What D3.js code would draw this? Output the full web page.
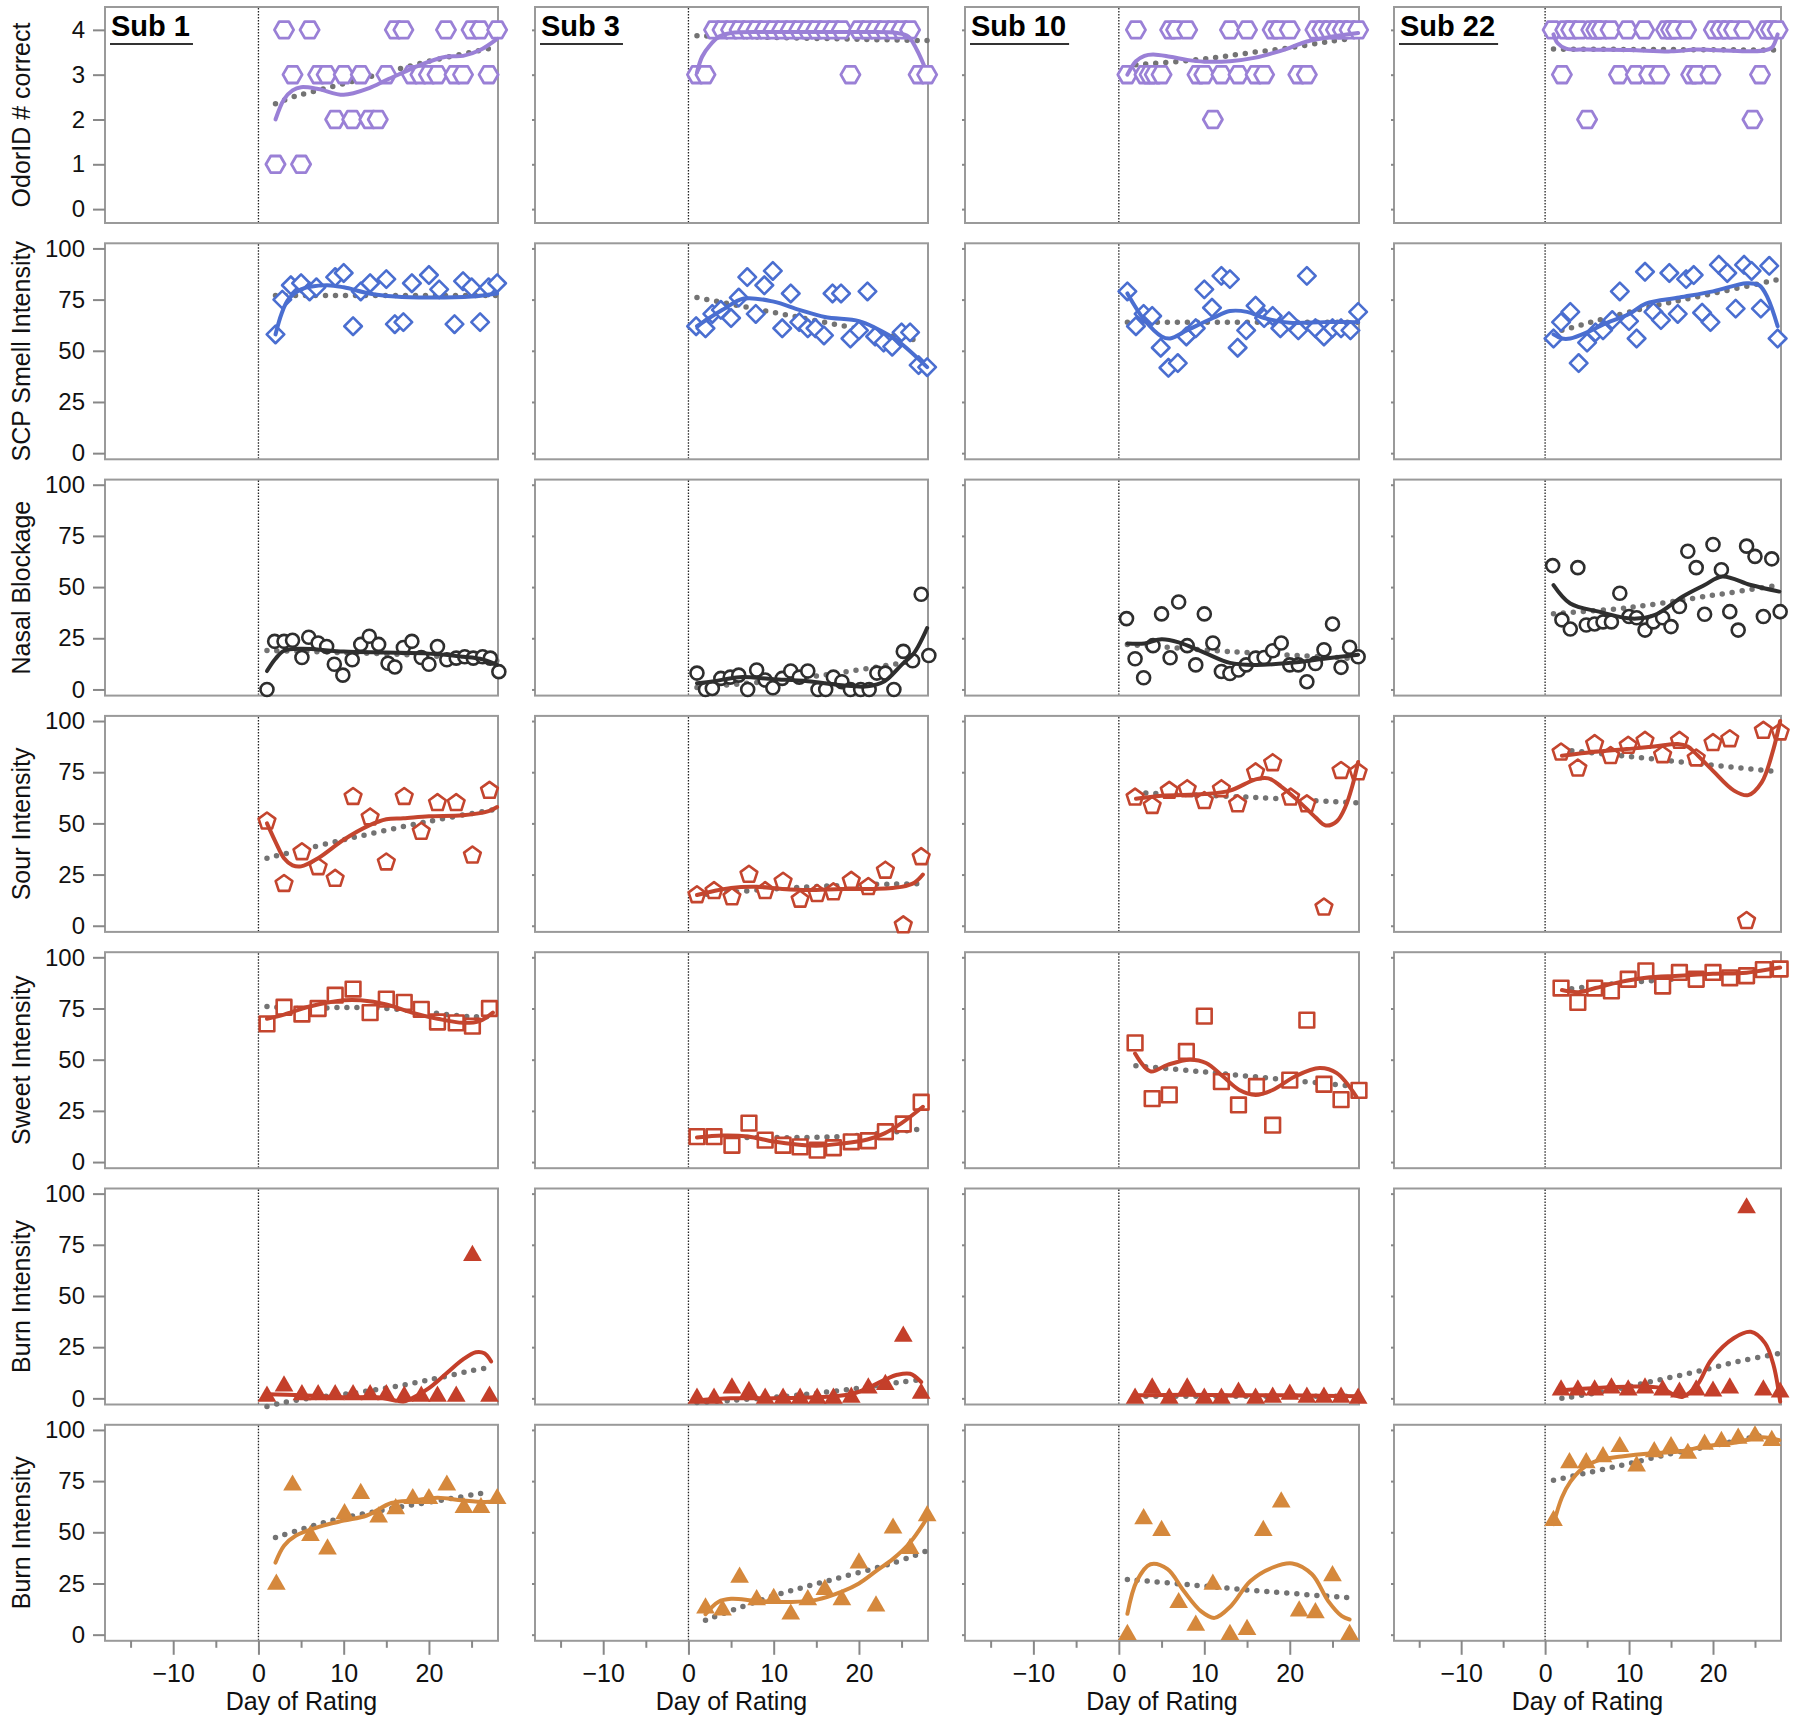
<!DOCTYPE html>
<html>
<head>
<meta charset="utf-8">
<script src="https://cdn.jsdelivr.net/npm/d3@7"></script>
<style>
  body { margin: 0; background: #fff; }
  text { font-family: "Liberation Sans", Arial, Helvetica, sans-serif; }
</style>
</head>
<body>
<div id="chart"></div>
<script>
// ---- data ----
const subjects = ["Sub 1", "Sub 3", "Sub 10", "Sub 22"];
const rowTitles = ["OdorID # correct", "SCP Smell Intensity", "Nasal Blockage",
  "Sour Intensity", "Sweet Intensity", "Burn Intensity", "Burn Intensity"];
const odorTicks = [0, 1, 2, 3, 4];
const pctTicks = [0, 25, 50, 75, 100];
const dayMajor = [-10, 0, 10, 20];
const dayMinor = [-15, -5, 5, 15, 25];

// each list holds one array per subject: [day, value]
const odorPts = [
  [[2,1],[3,4],[4,3],[5,1],[6,4],[7,3],[8,3],[9,2],[10,3],[11,2],[12,3],[13,2],[14,2],[15,3],[16,4],[17,4],[18,3],[19,3],[20,3],[21,3],[22,4],[23,3],[24,3],[25,4],[26,4],[27,3],[28,4]],
  [[1,3],[2,3],[3,4],[4,4],[5,4],[6,4],[7,4],[8,4],[9,4],[10,4],[11,4],[12,4],[13,4],[14,4],[15,4],[16,4],[17,4],[18,4],[19,3],[20,4],[21,4],[22,4],[23,4],[24,4],[25,4],[26,4],[27,3],[28,3]],
  [[1,3],[2,4],[3,3],[3.6,3],[4.2,3],[5,3],[6,4],[6.7,4],[8,4],[9.2,3],[10,3],[11,2],[12,3],[13,4],[14,3],[15,4],[16,3],[17,3],[18,4],[18.7,4],[20,4],[21,3],[22,3],[23,4],[23.8,4],[24.6,4],[25.4,4],[26.2,4],[27,4],[28,4]],
  [[0.9,4],[2,3],[2.4,4],[3.1,4],[4.1,4],[5,2],[5.5,4],[6.1,4],[6.7,4],[7.8,4],[8.8,3],[9.8,4],[10.8,3],[11.8,4],[12.4,3],[13.6,3],[14.4,4],[15,4],[15.6,4],[16.8,4],[17.4,3],[18.1,3],[19.7,3],[20.1,4],[20.9,4],[21.7,4],[22.5,4],[23.7,4],[24.7,2],[25.6,3],[26.3,4],[26.9,4],[27.7,4]]
];
const odorFit = [
  [[2,2.0],[3,2.45],[4,2.65],[5,2.72],[7,2.68],[10,2.55],[13,2.7],[15,2.88],[17,3.05],[19,3.22],[22,3.4],[24,3.42],[26,3.55],[28,3.8]],
  [[1,3.05],[1.6,3.4],[2.5,3.65],[3.6,3.85],[5,3.93],[10,3.95],[20,3.95],[24.5,3.93],[25.8,3.85],[26.8,3.55],[27.6,3.22]],
  [[1,3.0],[2,3.3],[3,3.42],[4,3.45],[6,3.4],[8,3.33],[10,3.29],[13,3.3],[16,3.38],[18,3.48],[20,3.6],[22,3.74],[25,3.85],[28,3.93]],
  [[1,3.9],[1.5,3.7],[2.5,3.58],[5,3.56],[10,3.55],[15,3.52],[18,3.56],[20,3.55],[24,3.52],[26,3.54],[27,3.6],[27.7,3.9]]
];
const odorTrend = [
  [[2,2.35],[4,2.5],[6,2.6],[10,2.8],[15,3.05],[20,3.3],[25,3.5],[28,3.62]],
  [[1,3.87],[10,3.83],[20,3.79],[28,3.76]],
  [[2,3.22],[10,3.35],[15,3.48],[20,3.6],[25,3.75],[27,3.8]],
  [[1,3.57],[27.5,3.55]]
];

const smellPts = [
  [[2,58],[2.8,75],[3.8,82],[5,83],[6,79],[6.8,81],[9,86],[10,88],[11.1,62],[12,79],[13.1,83],[15,85],[16,63],[17,64],[18,83],[20,87],[21.2,80],[23,63],[24,84],[25,81],[26,64],[27,81],[28,83]],
  [[0.9,62],[2,61],[2.8,68],[3.8,70],[5,66],[5.9,76],[6.9,86],[7.9,68],[8.9,82],[9.9,89],[11,61],[12,78],[13,64],[14,61],[14.9,61],[15.9,57.5],[16.9,78],[17.9,78],[19,56],[20,60],[21,79],[21.9,57],[22.9,54],[23.9,52],[25,59],[26,59],[27,43],[28,42]],
  [[1,79],[2,62],[2.9,68],[3.9,67],[4.9,51.5],[5.8,41.7],[6.9,44],[7.9,57],[9,61],[10,80],[10.9,71],[12,86.6],[13,85],[13.9,51.5],[14.9,60],[16,72],[17,66],[18,67],[18.9,61],[19.9,64.5],[21,60],[22,86.6],[23,61],[24,57],[25,61],[26,61],[27.1,60],[28,69]],
  [[1,56],[1.9,64],[3,69],[4,44],[5,54],[6,59],[6.9,60],[8,65],[8.9,79],[10,64.5],[10.9,56],[11.9,88.6],[12.9,69],[13.8,65],[14.8,88],[15.8,68],[16.8,85],[17.7,87],[18.7,68.6],[19.7,64],[20.7,92],[21.7,88],[22.7,70.6],[23.7,92],[24.6,89],[25.7,70.6],[26.7,91.5],[27.7,56]]
];
const smellFit = [
  [[2,58],[2.7,68],[3.5,75],[5,80],[8,82],[10,81],[13,78],[16,76.5],[20,76],[25,76.5],[28,78]],
  [[1,62],[4,70],[6.5,75.5],[10,74],[13,70],[16,66.5],[20,64.5],[22,61],[24.5,55],[28,42]],
  [[1,78],[3,65],[5,57],[6,56],[8,60],[11,66],[13,69.4],[15,69],[17,66],[20,63.7],[24,64],[28,64]],
  [[1,58],[2,56],[3,56],[5,59],[7,63],[10,68],[12,73],[16,76],[20,79],[24,83],[25.5,82],[26.5,76],[27.7,62]]
];
const smellTrend = [
  [[2,77],[28,77]],
  [[1,76],[27,55]],
  [[1,64],[28,64]],
  [[2,60],[12,71],[20,78],[28,85]]
];

const nasalPts = [
  [[1,0],[1.9,23.5],[3,23.5],[4,24],[5.1,15.6],[5.9,25.5],[7,22.7],[8,21],[8.9,12.3],[9.9,7],[11,14.5],[12,22],[13,26],[14.1,22],[15.2,12.8],[16,11],[17,20.5],[18,23.5],[19.1,15.6],[20,12.3],[21,21],[22.1,14.5],[23.2,15.3],[24.2,16],[25.2,15.3],[26.3,16],[27.2,15.3],[28.2,8.7]],
  [[1,8],[2,0],[2.8,0.5],[3.8,5.4],[4.9,6],[5.9,7],[6.95,0],[8,9.5],[9,4.6],[9.9,0.8],[11,5.4],[12,9],[13,6],[14,9],[15.2,0],[16.1,0],[17,6],[18,3.8],[19,0],[20.2,0],[21.2,0],[22.1,8],[23.1,8],[24.1,0],[25.2,18.6],[26.3,14],[27.3,46.5],[28.2,16.6]],
  [[0.9,34.6],[1.9,15],[2.9,5.7],[4,21.4],[5,36.9],[6,15.5],[7,42.7],[8,21.4],[9,12],[10,36.9],[11,22.7],[12,8.8],[13,7.8],[14,9.5],[14.9,12],[16,15.3],[17,15.6],[18,18.9],[19,22.7],[20,12],[21,12],[22,3.8],[23,12.7],[24,19.4],[25,32],[26,10.8],[27,20.6],[28,16]],
  [[0.9,60.5],[2,34],[3,29.5],[3.9,59.5],[4.9,31.5],[5.9,32],[6.9,33],[7.9,33],[8.9,47],[10,35.6],[10.9,35],[11.9,29],[12.9,33],[14,35],[15,30.7],[16,40.5],[17,67.5],[18,59.5],[19,36.7],[20,70.8],[21,58.5],[22,38],[23,29],[24,70],[25,65],[26,35.6],[27,63.8],[28,38]]
];
const nasalFit = [
  [[1,9],[2,15],[3,18.9],[5,19.9],[10,18.5],[15,18],[20,17.5],[24,16],[26,15],[28,12]],
  [[1,3],[3,4],[6,6],[10,5],[14,4],[18,2],[21,1.5],[23,4],[25,12],[26.5,18],[28,30]],
  [[1,22.5],[3,22.5],[5,24.5],[7,23],[10,18],[13,13],[16,12],[20,13],[24,15],[28,17]],
  [[1,51],[3,42],[6.4,38],[10.4,34.6],[13.1,36.4],[16.4,45.4],[19,51],[21.1,55.2],[24.5,51],[27.9,47.8]]
];
const nasalTrend = [
  [[1,19],[10,18],[20,16.5],[28,14]],
  [[1,1],[14,6],[28,15]],
  [[1,22],[13,18.5],[28,15]],
  [[1,37],[10,40],[20,46],[28,51]]
];

const sourPts = [
  [[1,51],[3,20.5],[5.1,36],[7,28.7],[9,23],[11.1,63],[13.1,53],[15,31],[17.1,63],[19.1,46],[21,60],[23.2,60],[25.1,34.4],[27.1,66]],
  [[1,15],[3,17],[5.1,14],[7.1,25],[9,17],[11.1,21.6],[13.1,12.8],[15.1,15.6],[17,16.4],[19.1,22],[21.1,19],[23.1,27],[25.2,0.3],[27.3,33.6]],
  [[1.9,62.7],[3.9,58.6],[5.9,66],[8,66.8],[10,61],[12,66.8],[13.9,59.4],[16,75],[18,79.5],[20.1,62.7],[22,59.4],[24,9],[26,75.7],[28,75]],
  [[1.9,84.7],[3.9,76.9],[5.9,88.8],[7.8,83],[9.9,88],[11.9,90.4],[14,83.4],[16,90.4],[18,81.8],[20,89.3],[22,91.2],[24,2.4],[26,95.3],[28,94.5]]
];
const sourFit = [
  [[1,50],[2,41],[3,33],[4,29.5],[5,29],[7,33],[10,42],[13,49],[15,52],[17,52.5],[20,53.5],[24,54],[27,56],[28,58]],
  [[1,15],[3,17],[5,18.5],[8,19],[11,18],[14,17.5],[18,18],[22,18],[25,19],[26.5,21],[27.5,25]],
  [[2,62],[5,63.5],[10,64.3],[13,66],[16,71.5],[17.5,72],[19,68],[21,61],[23,53],[24.2,49],[25.5,51],[26.5,58],[27.3,68],[28,80]],
  [[2,83],[6,85],[9.7,86.3],[13,87.5],[15.8,88.8],[17,87.5],[17.8,84.7],[19.8,76.5],[22.5,66],[24.2,63.8],[25.8,70],[27.2,86.3],[28,100]]
];
const sourTrend = [
  [[1,33],[10,42],[20,51],[28,57]],
  [[1,15],[10,18],[20,20],[27,20.5]],
  [[2,65],[14,63],[28,60]],
  [[2,86],[27,75.5]]
];

const sweetPts = [
  [[1,67.5],[3,75.6],[5.1,72.3],[7,75],[9,81.5],[11.1,84.5],[13.1,73],[15,79.6],[17.1,78],[19.1,74.6],[21,68.4],[23.2,68],[25.1,66.4],[27.1,75]],
  [[1,12.4],[3,12.4],[5.1,8.2],[7.1,19],[9,10.7],[11.1,8.2],[13.1,7.4],[15.1,5.8],[17,7],[19.1,9.9],[21.1,10.4],[23.1,14.8],[25.2,18.6],[27.3,29.2]],
  [[1.9,58.2],[3.9,31],[5.9,32.8],[7.9,54],[10,71.3],[12,39.3],[14,27.9],[16.1,36.9],[18,18],[20,40],[22,69.3],[24,38],[26,30.5],[28.1,35]],
  [[1.9,85],[3.9,78],[5.9,85],[7.9,83.6],[9.9,89.3],[12,93.4],[14,86],[16,92.6],[18,89.3],[20,92.6],[22,90],[24,91],[26,94],[28,94.3]]
];
const sweetFit = [
  [[1,70],[3,72],[6,76],[10,79],[12,79],[15,77],[18,73],[21,70],[24,68],[26,69],[27.5,73]],
  [[1,12],[4,13],[7,12.5],[10,10],[13,8.5],[15,8],[18,9],[21,11],[23,14],[25,19],[27.5,27]],
  [[1.9,53],[3.7,44.3],[5.7,47.5],[8.3,50],[10.2,48.4],[12.2,41.8],[14.1,35.2],[16,32.8],[18,35.2],[20.6,41.8],[23.5,45.9],[25.5,43.4],[27.8,31.9]],
  [[2,84],[4,83],[6,85],[9,88],[12,90],[16,91],[20,92],[24,92.5],[28,95]]
];
const sweetTrend = [
  [[1,76],[5,75],[10,75.5],[15,75],[20,73],[25,71],[27,71]],
  [[1,12],[8,12],[14,12],[20,13],[27,16]],
  [[2,47],[10,44],[20,40],[27.5,37]],
  [[2,84],[8,87],[14,89],[20,91],[28,94]]
];

const burnPts = [
  [[1,1],[3,6],[5.1,1.7],[7,1.7],[9,1.7],[11.1,1.7],[13.1,1.7],[15,1.7],[17.1,1],[19.1,1],[21,1],[23.2,1],[25.1,69.7],[27.1,1]],
  [[1,0],[3,0],[5.1,5],[7.1,3.3],[9,0],[11.1,0],[13.1,0],[15.1,0],[17,0],[19.1,0.5],[21.1,5],[23.1,6.7],[25.2,30.3],[27.3,2.5]],
  [[1.9,0],[3.9,5],[5.9,0],[8,5],[10,0],[12,0],[14,3],[16,0],[18,0.5],[20,2],[22,0.5],[24,0.5],[26,0.5],[28,0]],
  [[1.9,4],[3.9,4],[5.9,4],[7.9,5],[9.9,4],[11.9,5],[14,4],[16,3],[18,4],[20,3.5],[22,5],[24,93],[26,4],[28,3]]
];
const burnFit = [
  [[1,2],[5,1.5],[10,0.5],[14,0.5],[16,-1],[17,-1.5],[18,0],[20,5],[22,12],[24,19],[25.5,22.5],[26.5,22],[27.3,18]],
  [[1,-1],[5,0],[10,0],[15,0.5],[19,2],[21,5],[23,9],[24.5,11.5],[26,12],[27.3,8]],
  [[2,1.5],[8,1.8],[14,1.5],[20,1.5],[28,1]],
  [[1.9,4],[9.7,5.7],[13.8,5],[15.4,1.6],[16.4,0.8],[18.1,6.5],[19.8,18.9],[22.5,29.5],[24.5,32.5],[26.2,27],[27.2,16.4],[28,-1.6]]
];
const burnTrend = [
  [[1,-4],[3,-2],[6,0],[10,2],[15,5],[20,9],[25,13.5],[27,15]],
  [[1,-2],[5,-1],[10,0.5],[15,2.5],[20,5],[25,8],[27,9]],
  [[2,1],[28,1]],
  [[2,0],[8,4],[13,8.5],[18,13],[23,18],[28,22]]
];

const burn2Pts = [
  [[2.1,24.6],[4,73],[6.1,48.4],[8.1,41.8],[10.1,59],[12,68.9],[14.1,57.4],[16.1,61.5],[18.1,66.4],[20,66.4],[22.1,73],[24.1,62],[26.1,62],[28,66.4]],
  [[2,13],[4,12],[6,28],[8,17],[10,17.6],[12,10],[14,17],[16,22],[18,17],[20,35],[22,14],[24,52],[26,42],[28,58]],
  [[1,0],[2.9,56.6],[5,50.8],[7,15.6],[9,4.6],[11,24.6],[13,0],[15,2.5],[16.9,50.8],[19,64.8],[21.1,11.5],[23,10.7],[25,28.7],[27,0]],
  [[1,55.7],[2.9,83.9],[4.9,83.9],[6.9,86.9],[8.9,91.8],[10.9,82.3],[13,89.3],[15,91.8],[17,88.5],[19,93],[21,94.3],[23,95.9],[25,97],[27,94.8]]
];
const burn2Fit = [
  [[2,35.2],[3,43.4],[4.4,48.4],[7.2,52.8],[10,55.7],[12.7,58.2],[15.6,64.3],[18.3,65.6],[21,66.9],[23.9,65.6],[26.6,64.8],[28,65.2]],
  [[2,10],[3.5,16],[5,17.5],[8,16.5],[12,16],[15,17],[18,21],[20,25],[22,31],[24,37],[26,45],[28,57]],
  [[1,10.2],[2.1,26.2],[3.7,34.4],[5.7,32],[7.6,21.3],[9.6,11.5],[11.2,8.2],[13.1,13.9],[15.4,26.2],[18,32.8],[20.3,34.8],[22.6,29.5],[24.5,16.4],[26.1,9],[27,7.4]],
  [[1,54],[2,67],[3,74.6],[4.4,81],[6.4,85.2],[9.1,87],[12.4,88.5],[15.8,89.3],[19.1,92],[22.5,93.7],[25.8,96.4],[27.9,95]]
];
const burn2Trend = [
  [[2,47.5],[8.6,55.7],[15.5,61.5],[22.5,66.4],[27,69.7]],
  [[2,7],[10,19],[17,27],[24,35],[28,41]],
  [[1,27],[8,24.5],[16,21.5],[27,18]],
  [[1,75.4],[6.4,80.3],[10.4,83.9],[15.1,88.5],[19.8,92.1],[26.5,98]]
];

// ---- styling per row ----
const rowColors = ["#9a80d6", "#4a6ed0", "#2e2e2e", "#c4452e", "#c4452e", "#c43f2a", "#d5883c"];
const rowShapes = ["hexagon", "diamond", "circle", "pentagon", "square", "triangle", "triangle"];

const rowPts = [odorPts, smellPts, nasalPts, sourPts, sweetPts, burnPts, burn2Pts];
const rowFit = [odorFit, smellFit, nasalFit, sourFit, sweetFit, burnFit, burn2Fit];
const rowTrend = [odorTrend, smellTrend, nasalTrend, sourTrend, sweetTrend, burnTrend, burn2Trend];

const W = 1800, H = 1724;
const colLeft = [105, 535, 965, 1394];
const colWidth = [393, 393, 394, 387];
const top0 = 7, rowStep = 236.3, ph = 216;

const svg = d3.select("#chart").append("svg")
  .attr("width", W).attr("height", H)
  .attr("viewBox", `0 0 ${W} ${H}`);

const yOdor = d3.scaleLinear().domain([-0.31, 4.51]).range([ph, 0]);
const yPct = d3.scaleLinear().domain([-3, 102.5]).range([ph, 0]);

function polyPath(n, r, rotDeg) {
  const pts = d3.range(n).map(function (k) {
    const a = (rotDeg + k * 360 / n) * Math.PI / 180;
    return [r * Math.cos(a), r * Math.sin(a)];
  });
  return "M" + pts.map(p => p[0].toFixed(2) + "," + p[1].toFixed(2)).join("L") + "Z";
}

const shapePaths = {
  hexagon: polyPath(6, 9.6, 0),
  diamond: polyPath(4, 8.8, -90),
  circle: "M6.5,0A6.5,6.5 0 1 1 -6.5,0A6.5,6.5 0 1 1 6.5,0Z",
  pentagon: polyPath(5, 8.8, -90),
  square: polyPath(4, 10.4, 45),
  triangle: polyPath(3, 10.8, -90)
};
const shapeStroke = { hexagon: 2.8, diamond: 2.6, circle: 2.6, pentagon: 2.6, square: 2.6 };

const lineGen = d3.line().curve(d3.curveCatmullRom.alpha(0.5));

rowTitles.forEach(function (title, r) {
  const y = r === 0 ? yOdor : yPct;
  const ticks = r === 0 ? odorTicks : pctTicks;
  const top = top0 + r * rowStep;

  // row title
  svg.append("text")
    .attr("transform", `translate(21,${top + ph / 2}) rotate(-90)`)
    .attr("text-anchor", "middle")
    .attr("dy", "0.35em")
    .style("font-size", "25px")
    .attr("fill", "#111")
    .text(title);

  subjects.forEach(function (sub, c) {
    const pw = colWidth[c];
    const x = d3.scaleLinear().domain([-18, 28.1]).range([0, pw]);
    const g = svg.append("g")
      .attr("transform", `translate(${colLeft[c]},${top})`);

    g.append("rect")
      .attr("width", pw).attr("height", ph)
      .attr("fill", "#fff")
      .attr("stroke", "#9a9a9a")
      .attr("stroke-width", 2);

    // y axis
    const yAxis = d3.axisLeft(y).tickValues(ticks).tickFormat(d3.format("d"));
    if (c === 0) yAxis.tickSize(12).tickPadding(8);
    else yAxis.tickSize(3).tickFormat("");
    const ga = g.append("g").call(yAxis);
    ga.select(".domain").remove();
    ga.selectAll("line").attr("stroke", "#888").attr("stroke-width", 2);
    ga.selectAll("text").style("font-size", "24px").attr("fill", "#111");

    // day 0 reference line
    g.append("line")
      .attr("x1", x(0)).attr("x2", x(0))
      .attr("y1", 1).attr("y2", ph - 1)
      .attr("stroke", "#222").attr("stroke-width", 1.3)
      .attr("stroke-dasharray", "1.5,1.5");

    const color = rowColors[r];
    const shape = rowShapes[r];
    const filled = shape === "triangle";

    // dotted trend
    g.append("path")
      .datum(rowTrend[r][c])
      .attr("d", d => lineGen(d.map(p => [x(p[0]), y(p[1])])))
      .attr("fill", "none")
      .attr("stroke", "#737373")
      .attr("stroke-width", 5.5)
      .attr("stroke-linecap", "round")
      .attr("stroke-dasharray", "0,10");

    // markers
    g.selectAll(".pt")
      .data(rowPts[r][c])
      .enter().append("path")
      .attr("class", "pt")
      .attr("transform", d => `translate(${x(d[0])},${y(d[1])})`)
      .attr("d", shapePaths[shape])
      .attr("fill", filled ? color : "#fff")
      .attr("stroke", filled ? "none" : color)
      .attr("stroke-width", filled ? 0 : shapeStroke[shape])
      .attr("stroke-linejoin", "round");

    // smooth fit
    g.append("path")
      .datum(rowFit[r][c])
      .attr("d", d => lineGen(d.map(p => [x(p[0]), y(p[1])])))
      .attr("fill", "none")
      .attr("stroke", color)
      .attr("stroke-width", 4)
      .attr("stroke-linecap", "round");

    // subject label
    if (r === 0) {
      const t = g.append("text")
        .attr("x", 6).attr("y", 29)
        .style("font-size", "29px")
        .style("font-weight", "bold")
        .attr("fill", "#000")
        .text(sub);
      const w = t.node().getComputedTextLength();
      g.append("line")
        .attr("x1", 5).attr("x2", 9 + w)
        .attr("y1", 37).attr("y2", 37)
        .attr("stroke", "#333").attr("stroke-width", 2.2);
    }

    // bottom x axis
    if (r === rowTitles.length - 1) {
      const gx = g.append("g").attr("transform", `translate(0,${ph})`)
        .call(d3.axisBottom(x).tickValues(dayMajor).tickSize(14).tickPadding(9));
      gx.select(".domain").remove();
      gx.selectAll("line").attr("stroke", "#888").attr("stroke-width", 2);
      gx.selectAll("text").style("font-size", "25px").attr("fill", "#111");

      const gm = g.append("g").attr("transform", `translate(0,${ph})`)
        .call(d3.axisBottom(x).tickValues(dayMinor).tickSize(7).tickFormat(""));
      gm.select(".domain").remove();
      gm.selectAll("line").attr("stroke", "#888").attr("stroke-width", 2);

      g.append("text")
        .attr("x", pw / 2).attr("y", ph + 69)
        .attr("text-anchor", "middle")
        .style("font-size", "25px")
        .attr("fill", "#111")
        .text("Day of Rating");
    }
  });
});
</script>
</body>
</html>
